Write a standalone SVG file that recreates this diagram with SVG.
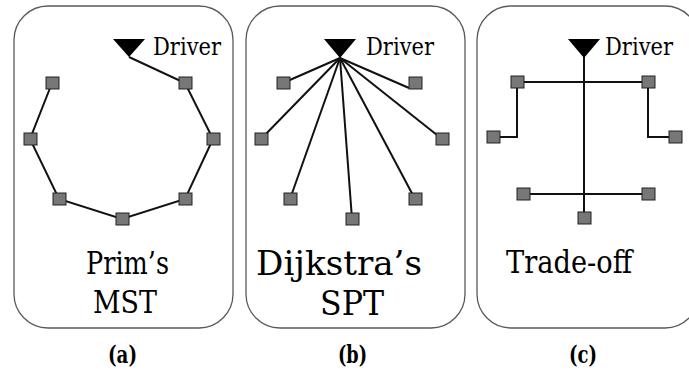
<svg xmlns="http://www.w3.org/2000/svg" width="689" height="392" viewBox="0 0 689 392">
<style>
.box{fill:#fff;stroke:#5a5a5a;stroke-width:1.3}
.n{fill:#777;stroke:#222;stroke-width:1}
.drv{fill:#000}
.c{stroke:#111;stroke-width:2;fill:none}
</style>
<rect width="689" height="392" fill="#fff"/>
<g id="panel-a">
<rect class="box" x="14" y="6" width="219" height="322" rx="34" ry="34"/>
<text style="font-family:'DejaVu Serif',serif;font-size:31px" x="86" y="274" textLength="83" lengthAdjust="spacingAndGlyphs">Prim’s</text>
<text style="font-family:'DejaVu Serif',serif;font-size:31px" x="93" y="313" textLength="64" lengthAdjust="spacingAndGlyphs">MST</text>
</g>
<g id="panel-b">
<rect class="box" x="246" y="6" width="219" height="322" rx="34" ry="34"/>
<text style="font-family:'DejaVu Serif',serif;font-size:34px" x="256" y="275" textLength="166" lengthAdjust="spacingAndGlyphs">Dijkstra’s</text>
<text style="font-family:'DejaVu Serif',serif;font-size:34px" x="320" y="315" textLength="64" lengthAdjust="spacingAndGlyphs">SPT</text>
</g>
<g id="panel-c">
<rect class="box" x="477" y="6" width="222" height="322" rx="34" ry="34"/>
<text style="font-family:'DejaVu Serif',serif;font-size:32px" x="506" y="273" textLength="126" lengthAdjust="spacingAndGlyphs">Trade-off</text>
</g>
<g id="connectors">
<polyline class="c" points="129,57 185,83 213,139 185,199 122,219 59,199 30,139 52,83"/>
<line class="c" x1="340" y1="58" x2="283" y2="83"/>
<line class="c" x1="340" y1="58" x2="261" y2="139"/>
<line class="c" x1="340" y1="58" x2="290" y2="199"/>
<line class="c" x1="340" y1="58" x2="352" y2="219"/>
<line class="c" x1="340" y1="58" x2="415" y2="199"/>
<line class="c" x1="340" y1="58" x2="442" y2="139"/>
<line class="c" x1="340" y1="58" x2="409" y2="88"/>
<line class="c" x1="584" y1="56" x2="584" y2="218"/>
<line class="c" x1="517" y1="82" x2="648" y2="82"/>
<polyline class="c" points="517,82 517,137 493,137"/>
<polyline class="c" points="648,82 648,137 675,137"/>
<line class="c" x1="523" y1="194" x2="648" y2="194"/>
</g>
<g id="driver-a"><polygon class="drv" points="113,39 145,39 129,57"/><text style="font-family:'DejaVu Serif',serif;font-size:24px" x="153" y="55" textLength="68" lengthAdjust="spacingAndGlyphs">Driver</text></g>
<g id="driver-b"><polygon class="drv" points="324,39 356,39 340,58"/><text style="font-family:'DejaVu Serif',serif;font-size:24px" x="366" y="55" textLength="68" lengthAdjust="spacingAndGlyphs">Driver</text></g>
<g id="driver-c"><polygon class="drv" points="568,39 600,39 584,58"/><text style="font-family:'DejaVu Serif',serif;font-size:24px" x="605" y="55" textLength="68" lengthAdjust="spacingAndGlyphs">Driver</text></g>
<g id="nodes-a">
<rect class="n" x="46" y="77" width="13" height="12"/>
<rect class="n" x="179" y="77" width="13" height="12"/>
<rect class="n" x="24" y="133" width="13" height="12"/>
<rect class="n" x="207" y="133" width="13" height="12"/>
<rect class="n" x="53" y="193" width="13" height="12"/>
<rect class="n" x="179" y="193" width="13" height="12"/>
<rect class="n" x="116" y="213" width="13" height="12"/>
</g>
<g id="nodes-b">
<rect class="n" x="277" y="77" width="13" height="12"/>
<rect class="n" x="409" y="77" width="13" height="12"/>
<rect class="n" x="255" y="133" width="13" height="12"/>
<rect class="n" x="436" y="133" width="13" height="12"/>
<rect class="n" x="284" y="193" width="13" height="12"/>
<rect class="n" x="409" y="193" width="13" height="12"/>
<rect class="n" x="346" y="213" width="13" height="12"/>
</g>
<g id="nodes-c">
<rect class="n" x="511" y="76" width="13" height="12"/>
<rect class="n" x="642" y="76" width="13" height="12"/>
<rect class="n" x="487" y="131" width="13" height="12"/>
<rect class="n" x="669" y="131" width="13" height="12"/>
<rect class="n" x="517" y="188" width="13" height="12"/>
<rect class="n" x="642" y="188" width="13" height="12"/>
<rect class="n" x="578" y="212" width="13" height="12"/>
</g>
<g id="captions">
<text style="font-family:'DejaVu Serif',serif;font-weight:bold;font-size:24px" x="108" y="363" textLength="29" lengthAdjust="spacingAndGlyphs">(a)</text>
<text style="font-family:'DejaVu Serif',serif;font-weight:bold;font-size:24px" x="338" y="363" textLength="29" lengthAdjust="spacingAndGlyphs">(b)</text>
<text style="font-family:'DejaVu Serif',serif;font-weight:bold;font-size:24px" x="569" y="363" textLength="28" lengthAdjust="spacingAndGlyphs">(c)</text>
</g>
</svg>
